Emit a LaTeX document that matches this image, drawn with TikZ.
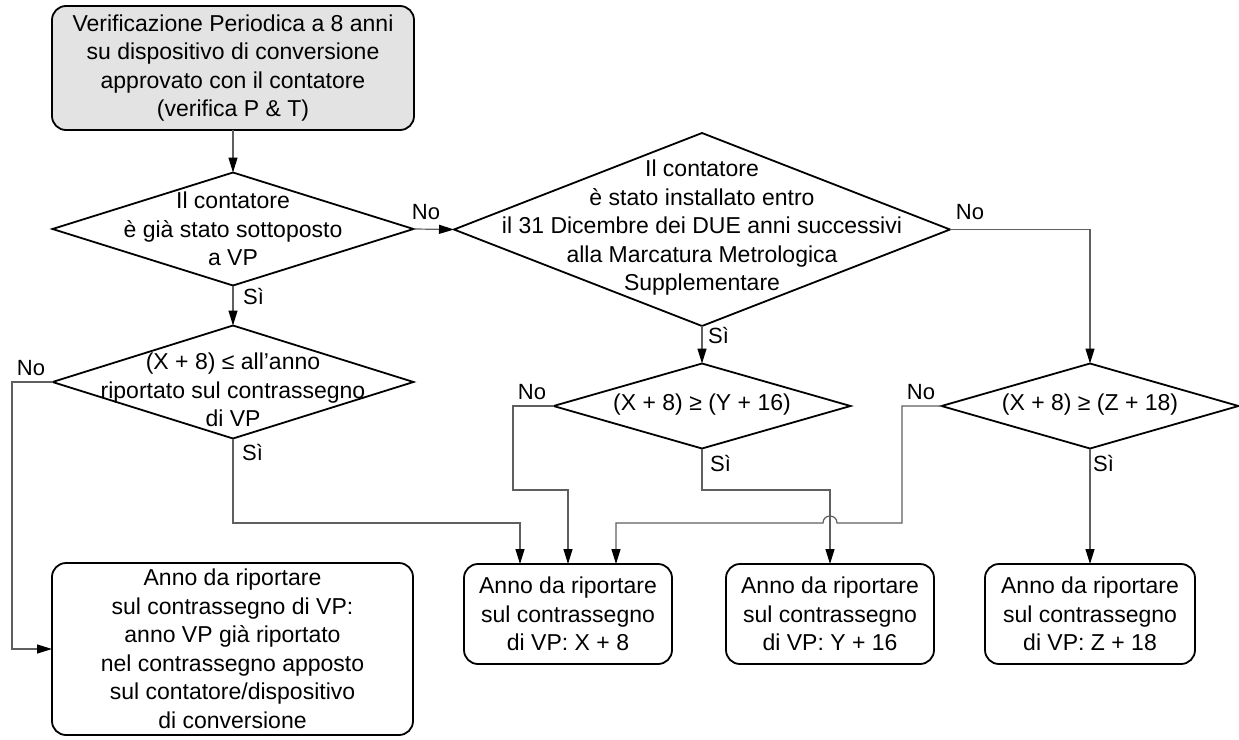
\documentclass[tikz,border=0pt]{standalone}
\usepackage{fontspec}
\setmainfont{Liberation Sans}
\usetikzlibrary{shapes.geometric,arrows.meta,calc}
\definecolor{conncol}{RGB}{95,95,95}
\definecolor{topfill}{RGB}{227,227,227}
\begin{document}
\begin{tikzpicture}[x=1pt,y=-1pt,
  every node/.style={font=\fontsize{23pt}{28.5pt}\selectfont},
  box/.style={draw=black, line width=1.8pt, rounded corners=14pt, align=center, inner sep=0pt, outer sep=0pt},
  dia/.style={draw=black, line width=1.8pt, diamond, inner sep=0pt, outer sep=0pt},
  txt/.style={align=center, inner sep=0pt},
  lab/.style={font=\fontsize{22pt}{26pt}\selectfont, inner sep=0pt},
  conn/.style={draw=conncol, line width=1.2pt, -{Triangle[length=15pt,width=9pt,color=black]}}
]
\useasboundingbox (0,0) rectangle (1239,739);

% boxes
\node[box, fill=topfill, minimum width=362pt, minimum height=124pt] (top) at (233,68)
  {Verificazione Periodica a 8 anni\\su dispositivo di conversione\\approvato con il contatore\\(verifica P \& T)};
\node[box, minimum width=361pt, minimum height=172pt] (b1) at (232.5,649)
  {Anno da riportare\\sul contrassegno di VP:\\anno VP già riportato\\nel contrassegno apposto\\sul contatore/dispositivo\\di conversione};
\node[box, minimum width=208pt, minimum height=100pt] (b2) at (568,614)
  {Anno da riportare\\sul contrassegno\\di VP: X + 8};
\node[box, minimum width=208pt, minimum height=100pt] (b3) at (830,614)
  {Anno da riportare\\sul contrassegno\\di VP: Y + 16};
\node[box, minimum width=210pt, minimum height=100pt] (b4) at (1090,614)
  {Anno da riportare\\sul contrassegno\\di VP: Z + 18};

% diamonds
\node[dia, minimum width=361pt, minimum height=113pt] (d1) at (233,229) {};
\node[txt] (t1) at (233,229) {Il contatore\\è già stato sottoposto\\a VP};
\node[dia, minimum width=496pt, minimum height=193pt] (bd) at (702,229.5) {};
\node[txt] (tb) at (702,228) {Il contatore\\è stato installato entro\\il 31 Dicembre dei DUE anni successivi\\alla Marcatura Metrologica\\Supplementare};
\node[dia, minimum width=361pt, minimum height=113pt] (d2) at (233,382) {};
\node[txt] (t2) at (233,390) {(X + 8) ≤ all'anno\\riportato sul contrassegno\\di VP};
\node[dia, minimum width=297pt, minimum height=85pt] (d3) at (702,406) {};
\node[txt] (t3) at (702,405) {(X + 8) ≥ (Y + 16)};
\node[dia, minimum width=297pt, minimum height=85pt] (d4) at (1090,406) {};
\node[txt] (t4) at (1090,405) {(X + 8) ≥ (Z + 18)};

% connectors
\draw[conn] (top.south) -- (d1.north);
\draw[conn] (d1.east) -- (bd.west);
\node[lab] (no1) at (426,212) {No};
\draw[conn] (d1.south) -- (d2.north);
\node[lab, anchor=west] (si1) at (243,297) {Sì};

\coordinate (c2) at (12,382);
\draw[conn] (d2.west) -- (c2) |- (b1.west);
\node[lab] (no2) at (31,368) {No};
\coordinate (c3) at (520,523);
\draw[conn] (d2.south) |- (c3) -- (c3 |- b2.north);
\node[lab, anchor=west] (si2) at (242,453) {Sì};

\draw[conn] (bd.south) -- (d3.north);
\node[lab, anchor=west] (si3) at (708,336) {Sì};
\draw[conn] (bd.east) -| (d4.north);
\node[lab] (no3) at (970,212) {No};

\coordinate (c4) at (513,490);
\draw[conn] (d3.west) -| (c4) -| (b2.north);
\node[lab] (no4) at (532,392) {No};
\coordinate (c5) at (830,490);
\draw[conn] (d3.south) |- (c5) -- (b3.north);
\node[lab, anchor=west] (si4) at (710,463) {Sì};

\coordinate (c6) at (902,523);
\coordinate (c7) at (616,523);
\draw[conn] (d4.west) -| (c6) -- (837,523) .. controls (837,513.7) and (823,513.7) .. (823,523) -- (c7) -- (c7 |- b2.north);
\node[lab] (no5) at (921,392) {No};
\draw[conn] (d4.south) -- (b4.north);
\node[lab, anchor=west] (si5) at (1093,463) {Sì};
\end{tikzpicture}
\end{document}
